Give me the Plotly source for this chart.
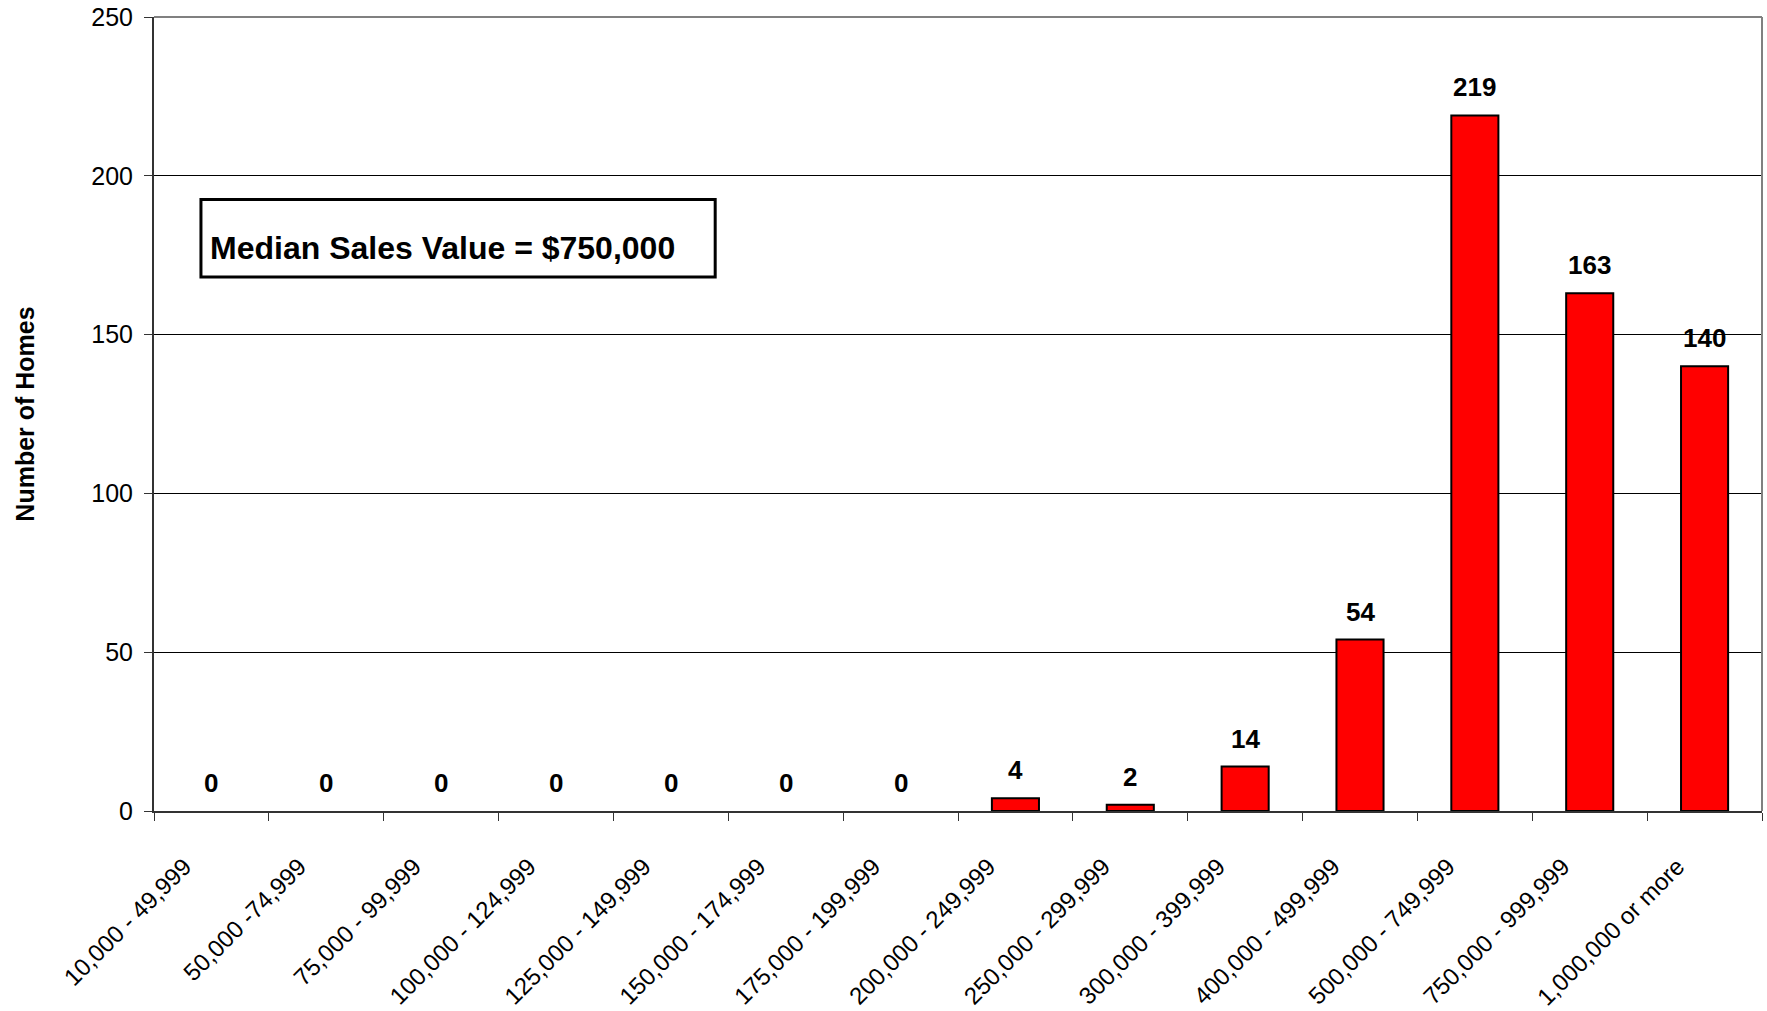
import plotly.graph_objects as go

categories = ["10,000 - 49,999", "50,000 -74,999", "75,000 - 99,999", "100,000 - 124,999",
              "125,000 - 149,999", "150,000 - 174,999", "175,000 - 199,999", "200,000 - 249,999",
              "250,000 - 299,999", "300,000 - 399,999", "400,000 - 499,999", "500,000 - 749,999",
              "750,000 - 999,999", "1,000,000 or more"]
homes = [0, 0, 0, 0, 0, 0, 0, 4, 2, 14, 54, 219, 163, 140]
y_ticks = [0, 50, 100, 150, 200, 250]
y_title = "Number of Homes"
note_text = "Median Sales Value = $750,000"

FONT = "Liberation Sans, Arial, sans-serif"

fig = go.Figure()
fig.add_trace(go.Bar(
    x=categories, y=homes,
    marker=dict(color="#FF0000",
                line=dict(color="#000000", width=[2 if v > 0 else 0 for v in homes])),
    hoverinfo="x+y",
))

for c, v in zip(categories, homes):
    fig.add_annotation(x=c, y=v, xref="x", yref="y", text="<b>%d</b>" % v,
                       showarrow=False, yanchor="bottom", yshift=11,
                       font=dict(family=FONT, size=26, color="#000000"))

# median note box
fig.add_shape(type="rect", xref="paper", yref="paper", x0=0.0292, x1=0.349, y0=0.6725, y1=0.770,
              line=dict(color="#000000", width=3), fillcolor="#FFFFFF", layer="above")
fig.add_annotation(xref="paper", yref="paper", x=0.0335, y=0.709, xanchor="left", yanchor="middle",
                   text="<b>" + note_text + "</b>", showarrow=False,
                   font=dict(family=FONT, size=32, color="#000000"))

# plot border (top, right)
fig.add_shape(type="line", xref="paper", yref="paper", x0=0, x1=1, y0=1, y1=1,
              line=dict(color="#808080", width=2), layer="above")
fig.add_shape(type="line", xref="paper", yref="paper", x0=1, x1=1, y0=0, y1=1,
              line=dict(color="#808080", width=2), layer="above")

fig.update_layout(
    width=1767, height=1011,
    margin=dict(l=154, r=5, t=17, b=200, autoexpand=False),
    paper_bgcolor="#FFFFFF", plot_bgcolor="#FFFFFF",
    bargap=0.59, showlegend=False,
    font=dict(family=FONT, color="#000000"),
)
fig.update_xaxes(
    type="category", range=[-0.5, len(categories) - 0.5], automargin=False,
    tickson="boundaries", ticks="outside", ticklen=8, tickcolor="#333333", tickwidth=1,
    tickangle=-45, tickfont=dict(family=FONT, size=24, color="#000000"),
    ticklabelstandoff=30, ticklabelshift=-27,
    showline=True, linecolor="#333333", linewidth=2, showgrid=False,
)
fig.update_yaxes(
    range=[0, 250], tickvals=y_ticks, automargin=False,
    ticks="outside", ticklen=8, tickcolor="#333333", tickwidth=1,
    tickfont=dict(family=FONT, size=25, color="#000000"), ticklabelstandoff=6,
    showline=True, linecolor="#333333", linewidth=2,
    showgrid=True, gridcolor="#000000", gridwidth=1, zeroline=False,
    title=dict(text="<b>" + y_title + "</b>", font=dict(family=FONT, size=25, color="#000000"), standoff=50),
)

fig.write_html("out.html", config={"displayModeBar": False},
               post_script="document.body.style.margin='0';document.body.style.overflow='hidden';")
